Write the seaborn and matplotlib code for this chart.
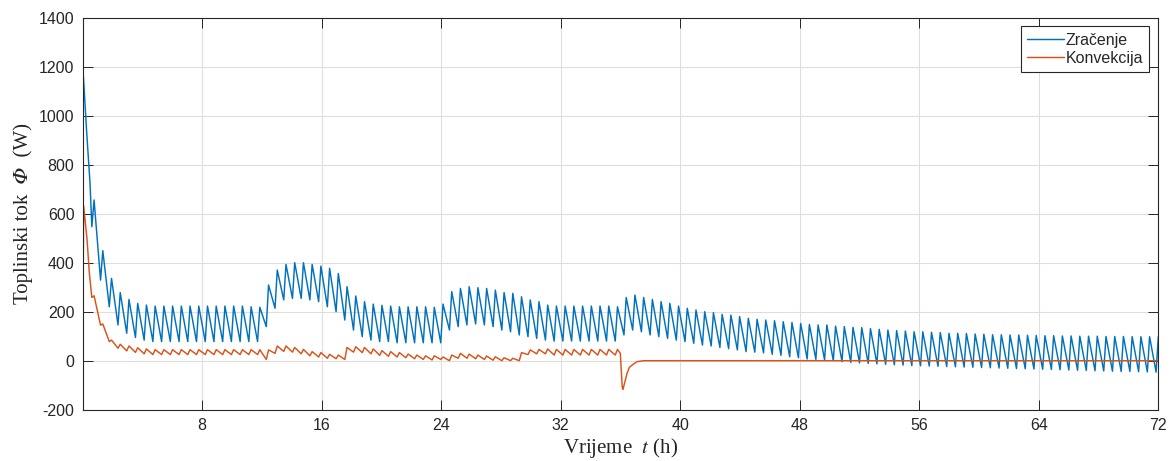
import numpy as np
import pandas as pd
import matplotlib
matplotlib.use('Agg')
import matplotlib.pyplot as plt
import seaborn as sns

# =============================================================================
# Data
# =============================================================================

# spikes come at a regular period (hours)
first_spike = 0.76
period = 0.584
n_cycles = 123
rise = 0.15

# Zracenje: start of the curve, then trough before / peak of each cycle
blue_start_t = [0.0, 0.27, 0.49]
blue_start_v = [1206, 928, 724]

blue_peak = [
    656, 449, 336, 278, 250, 234, 227, 223, 223, 223,
    223, 223, 223, 223, 223, 223, 223, 223, 220, 218,
    309, 370, 393, 400, 400, 393, 386, 377, 356, 302,
    264, 241, 231, 226, 223, 220, 220, 220, 220, 218,
    231, 282, 295, 302, 298, 295, 288, 278, 275, 261,
    248, 241, 227, 223, 223, 223, 223, 223, 223, 223,
    220, 258, 268, 258, 250, 241, 234, 223, 214, 207,
    200, 196, 189, 186, 180, 173, 169, 166, 163, 159,
    156, 152, 148, 146, 146, 141, 139, 136, 135, 131,
    128, 125, 123, 121, 118, 118, 116, 115, 112, 112,
    111, 109, 108, 106, 106, 105, 105, 104, 103, 102,
    102, 101, 101, 100, 100, 100, 99, 99, 99, 98,
    98, 98, 98]

blue_trough = [
    547, 329, 220, 146, 112, 95, 84, 78, 78, 78,
    78, 78, 78, 78, 78, 78, 78, 78, 78, 78,
    139, 214, 248, 254, 254, 248, 241, 220, 200, 166,
    125, 98, 84, 78, 78, 73, 73, 73, 73, 73,
    73, 125, 139, 146, 150, 146, 139, 125, 118, 105,
    98, 91, 84, 80, 80, 80, 80, 80, 80, 80,
    80, 105, 125, 118, 105, 98, 91, 84, 78, 71,
    64, 60, 54, 49, 44, 37, 35, 32, 26, 22,
    16, 12, 7, 5, 3, 0, -4, -7, -9, -11,
    -13, -15, -17, -18, -20, -21, -22, -23, -24, -25,
    -26, -27, -28, -29, -30, -31, -32, -33, -34, -35,
    -36, -37, -38, -39, -40, -41, -42, -43, -44, -44,
    -45, -46, -47]

# Konvekcija: oscillates until ~36 h, then dip and flat zero
orange_start_t = [0.0, 0.06, 0.29, 0.44]
orange_start_v = [0, 632, 495, 360]

orange_trough = [
    258, 145, 78, 51, 40, 34, 28, 25, 25, 25,
    25, 25, 25, 25, 25, 25, 25, 25, 25, 25,
    5, 30, 38, 35, 28, 20, 15, 10, 8, 5,
    35, 33, 28, 22, 18, 15, 12, 8, 5, 3,
    5, 0, 10, 10, 8, 5, 2, 0, 0, 0,
    25, 28, 28, 23, 23, 23, 23, 23, 23, 23,
    23]

orange_bump = [
    265, 150, 84, 67, 60, 53, 48, 45, 45, 45,
    45, 45, 45, 45, 45, 45, 45, 45, 45, 45,
    44, 60, 60, 54, 46, 37, 33, 26, 23, 54,
    57, 54, 48, 41, 37, 33, 27, 23, 20, 20,
    15, 23, 30, 27, 23, 19, 16, 12, 10, 33,
    44, 46, 48, 46, 46, 46, 46, 46, 46, 46,
    46]

orange_tail_t = [35.99, 36.12, 36.17, 36.33, 36.44, 36.6, 36.78, 37.1, 37.55, 72.0]
orange_tail_v = [30, -110, -117, -79, -52, -27, -18, -4, 0, 0]

# =============================================================================
# Build the lines
# =============================================================================

spike_t = first_spike + period * np.arange(n_cycles)

blue_t = list(blue_start_t)
blue_v = list(blue_start_v)
for k in range(n_cycles):
    blue_t += [spike_t[k] - rise, spike_t[k]]
    blue_v += [blue_trough[k], blue_peak[k]]

orange_t = list(orange_start_t)
orange_v = list(orange_start_v)
for k in range(len(orange_bump)):
    orange_t += [spike_t[k] - rise, spike_t[k]]
    orange_v += [orange_trough[k], orange_bump[k]]
orange_t += orange_tail_t
orange_v += orange_tail_v

df = pd.concat([
    pd.DataFrame({'t': blue_t, 'phi': blue_v, 'serija': 'Zračenje'}),
    pd.DataFrame({'t': orange_t, 'phi': orange_v, 'serija': 'Konvekcija'}),
], ignore_index=True)

# =============================================================================
# Plot
# =============================================================================

sns.set_style('ticks')
plt.rcParams['font.family'] = ['Liberation Sans', 'DejaVu Sans']
plt.rcParams['mathtext.fontset'] = 'stix'
plt.rcParams['axes.unicode_minus'] = False

fig = plt.figure(figsize=(11.75, 4.61), dpi=100)
ax = fig.add_axes([0.0704, 0.1113, 0.9153, 0.8503])

sns.lineplot(data=df, x='t', y='phi', hue='serija',
             hue_order=['Zračenje', 'Konvekcija'],
             palette={'Zračenje': '#0072BD', 'Konvekcija': '#D95319'},
             estimator=None, sort=False, linewidth=1.05, ax=ax)

ax.set_xlim(0, 72)
ax.set_ylim(-200, 1400)
ax.set_xticks(np.arange(8, 73, 8))
ax.set_yticks(np.arange(-200, 1401, 200))

ax.grid(True, color='#dedede', linewidth=0.8)
ax.set_axisbelow(True)
for s in ax.spines.values():
    s.set_visible(True)
    s.set_color('#262626')
    s.set_linewidth(0.8)
ax.tick_params(direction='in', length=7.5, width=0.7, top=True, right=True,
               labelsize=11.5, colors='#262626', pad=6)

ax.set_xlabel('Vrijeme  $t$ (h)', family=['Liberation Serif', 'DejaVu Serif'],
              fontsize=15, color='#262626', labelpad=2)
ax.set_ylabel('Toplinski tok  \U0001D6F7  (W)',
              family=['Liberation Serif', 'STIXGeneral', 'DejaVu Serif'],
              fontsize=15, color='#262626', labelpad=4)

handles, labels = ax.get_legend_handles_labels()
leg = ax.legend(handles, labels, loc='upper right', fontsize=11.5,
                handlelength=2.3, handletextpad=0.1, borderpad=0.4,
                labelspacing=0.2, borderaxespad=0.55,
                fancybox=False, framealpha=1, edgecolor='#262626')
leg.get_frame().set_linewidth(0.8)

plt.savefig('out.png', dpi=100)
